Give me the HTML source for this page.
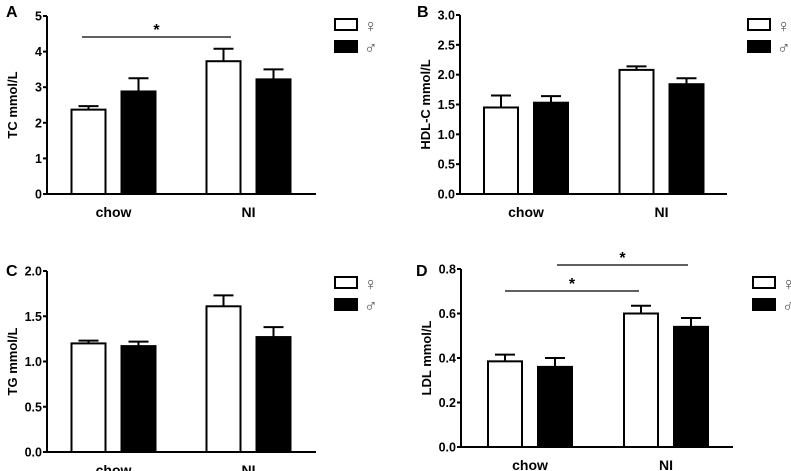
<!DOCTYPE html>
<html><head><meta charset="utf-8"><style>
body{margin:0;background:#fff;}
svg{display:block;font-family:"Liberation Sans",Arial,sans-serif;font-weight:bold;}
</style></head><body>
<svg id="s" width="791" height="471" viewBox="0 0 791 471"></svg>
<script>
const categories=["chow","NI"];
const tcFemale=[2.37,3.73], tcFemaleErr=[0.10,0.35], tcMale=[2.88,3.22], tcMaleErr=[0.37,0.28];
const hdlFemale=[1.45,2.08], hdlFemaleErr=[0.20,0.06], hdlMale=[1.53,1.84], hdlMaleErr=[0.11,0.10];
const tgFemale=[1.20,1.61], tgFemaleErr=[0.03,0.12], tgMale=[1.17,1.27], tgMaleErr=[0.05,0.11];
const ldlFemale=[0.385,0.60], ldlFemaleErr=[0.03,0.035], ldlMale=[0.36,0.54], ldlMaleErr=[0.04,0.04];
const tcTicks=["0","1","2","3","4","5"];
const hdlTicks=["0.0","0.5","1.0","1.5","2.0","2.5","3.0"];
const tgTicks=["0.0","0.5","1.0","1.5","2.0"];
const ldlTicks=["0.0","0.2","0.4","0.6","0.8"];

const svg=document.getElementById('s');
const NS='http://www.w3.org/2000/svg';
function mk(tag,attrs,parent){const e=document.createElementNS(NS,tag);for(const k in attrs)e.setAttribute(k,attrs[k]);(parent||svg).appendChild(e);return e;}

function panel(p){
  const g=mk('g',{});
  
  
  const ymax=parseFloat(p.ticks[p.ticks.length-1]);
  const y=v=>p.y0-(v/ymax)*(p.y0-p.ytop);
  const lab=mk('text',{x:p.lx,y:p.ly,'font-size':16,'font-weight':'900'},g);lab.textContent=p.id;
  
  
  const ya=mk('line',{x1:p.x0,x2:p.x0,y1:p.ytop,y2:p.y0+1,stroke:'#000','stroke-width':2},g);
  
  
  const xa=mk('line',{x1:p.x0-1,x2:p.x1,y1:p.y0,y2:p.y0,stroke:'#000','stroke-width':2},g);
  
  
  p.ticks.forEach(t=>{
    const yy=y(parseFloat(t));
    mk('line',{x1:p.x0-4,x2:p.x0,y1:yy,y2:yy,stroke:'#000','stroke-width':2},g);
    const tx=mk('text',{x:p.x0-5,y:yy+4.5,'font-size':12.5,'text-anchor':'end'},g);tx.textContent=t;
    
    
  });
  const yt=mk('text',{x:0,y:0,'font-size':13,'text-anchor':'middle',transform:`translate(${p.x0-30},${(p.ytop+p.y0)/2}) rotate(-90)`},g);
  yt.textContent=p.ytitle;
  
  
  categories.forEach((c,i)=>{
    const cx=p.centers[i];
    const xl=mk('text',{x:cx,y:p.y0+23,'font-size':14,'text-anchor':'middle'},g);xl.textContent=c;
    
    
    [[p.f,p.fe,cx-42,'#fff'],[p.m,p.me,cx+8,'#000']].forEach(([vals,errs,bx,fill],k)=>{
      const top=y(vals[i]), et=y(vals[i]+errs[i]);
      mk('line',{x1:bx+17,x2:bx+17,y1:top,y2:et,stroke:'#000','stroke-width':2},g);
      mk('line',{x1:bx+7,x2:bx+27,y1:et,y2:et,stroke:'#000','stroke-width':2},g);
      const r=mk('rect',{x:bx,y:top,width:34,height:p.y0-top,fill:fill,stroke:'#000','stroke-width':2},g);
      
      
    });
  });
  (p.sig||[]).forEach(s=>{
    const l=mk('line',{x1:s[0],x2:s[1],y1:s[2],y2:s[2],stroke:'#000','stroke-width':1.2},g);
    
    
    const st=mk('text',{x:(s[0]+s[1])/2,y:s[2]-2,'font-size':16,'text-anchor':'middle'},g);st.textContent='*';
    
    
  });
  [['♀','#fff',p.legy],['♂','#000',p.legy+22]].forEach(([sym,fill,ly],k)=>{
    const r=mk('rect',{x:p.legx,y:ly,width:22,height:11,fill:fill,stroke:'#000','stroke-width':2},g);
    
    
    const t=mk('text',{x:p.legx+29,y:ly+13,'font-size':18,'font-weight':'normal',fill:'#555'},g);t.textContent=sym;
    
    
  });
}
panel({id:'A',lx:6,ly:17,x0:47,x1:316,ytop:16,y0:194,ticks:tcTicks,ytitle:'TC mmol/L',centers:[113.5,248.5],f:tcFemale,fe:tcFemaleErr,m:tcMale,me:tcMaleErr,sig:[[82,231,37]],legx:335,legy:19});
panel({id:'B',lx:417,ly:17,x0:460,x1:727,ytop:15,y0:194,ticks:hdlTicks,ytitle:'HDL-C mmol/L',centers:[526,661.5],f:hdlFemale,fe:hdlFemaleErr,m:hdlMale,me:hdlMaleErr,legx:748,legy:19});
panel({id:'C',lx:6,ly:276,x0:47,x1:316,ytop:271,y0:452,ticks:tgTicks,ytitle:'TG mmol/L',centers:[113.5,248.5],f:tgFemale,fe:tgFemaleErr,m:tgMale,me:tgMaleErr,legx:335,legy:277});
panel({id:'D',lx:416,ly:276,x0:461,x1:733,ytop:269,y0:447,ticks:ldlTicks,ytitle:'LDL mmol/L',centers:[530,666],f:ldlFemale,fe:ldlFemaleErr,m:ldlMale,me:ldlMaleErr,sig:[[505,639,291],[557,688,265]],legx:753,legy:277});
</script>
</body></html>
